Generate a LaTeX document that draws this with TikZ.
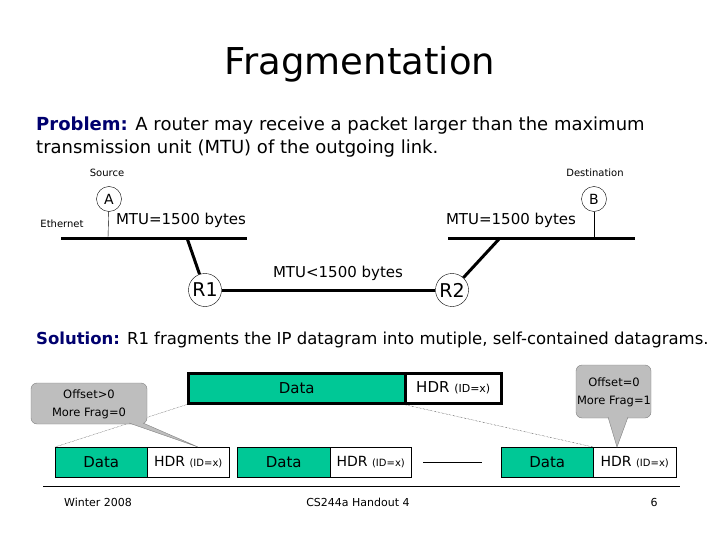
\documentclass[tikz,border=0pt]{standalone}
\usepackage{fontspec}
\setmainfont{DejaVu Sans}
\begin{document}
\begin{tikzpicture}[x=1pt,y=-1pt,
  lbl/.style={inner sep=0pt,font=\fontsize{15}{17}\selectfont},
  small/.style={inner sep=0pt,font=\fontsize{10}{12}\selectfont},
  host/.style={draw,circle,minimum size=25pt,inner sep=0pt,font=\fontsize{14}{16}\selectfont},
  rtr/.style={draw,circle,minimum size=33pt,inner sep=0pt,font=\fontsize{19}{21}\selectfont},
  net/.style={line width=3pt},
  databox/.style={draw,fill=teal0,minimum height=30pt,inner sep=0pt,font=\fontsize{15}{17}\selectfont},
  hdrbox/.style={draw,fill=white,minimum height=30pt,inner sep=0pt},
  callout/.style={fill=grey0,draw=gray,rounded corners=6pt},
  dots/.style={densely dotted,thin}]
\definecolor{teal0}{RGB}{0,200,150}
\definecolor{grey0}{RGB}{190,190,190}
\definecolor{navy0}{RGB}{0,0,110}
\useasboundingbox (0,0) rectangle (720,540);
\node (title) at (360,64) {\fontsize{37}{40}\selectfont Fragmentation};
\node[anchor=west,align=left,inner sep=0pt,font=\fontsize{18}{23}\selectfont] (prob) at (36,137) {\textcolor{navy0}{\textbf{Problem:}} A router may receive a packet larger than the maximum\\transmission unit (MTU) of the outgoing link.};
% network
\node[small] (src) at (107,173) {Source};
\node[small] (dst) at (595,173) {Destination};
\node[small] (eth) at (62,224) {Ethernet};
\node[host] (A) at (109,199) {A};
\node[host] (B) at (594,199) {B};
\coordinate (l1) at (61,238); \coordinate (l2) at (247,238);
\coordinate (r1) at (448,238); \coordinate (r2) at (635,238);
\draw[net] (l1) -- (l2);
\draw[net] (r1) -- (r2);
\coordinate (as) at (108,238); \coordinate (bs) at (594,238);
\draw (A) -- (as);
\draw (B) -- (bs);
\node[rtr] (R1) at (205,290) {R1};
\node[rtr] (R2) at (452,290) {R2};
\coordinate (lr) at (187,238); \coordinate (rr) at (500,238);
\draw[net] (lr) -- (R1);
\draw[net] (rr) -- (R2);
\draw[net] (R1) -- (R2);
\node[lbl] (m1) at (181,220) {MTU=1500 bytes};
\node[lbl] (m2) at (511,220) {MTU=1500 bytes};
\node[lbl] (m3) at (338,273) {MTU<1500 bytes};
\node[anchor=west,inner sep=0pt,font=\fontsize{16.5}{18}\selectfont] (sol) at (36,340) {\textcolor{navy0}{\textbf{Solution:}} R1 fragments the IP datagram into mutiple, self-contained datagrams.};
% big packet
\node[databox,minimum width=217pt,line width=2.5pt,anchor=north west] (bd) at (187,372) {Data};
\node[hdrbox,minimum width=96pt,line width=2.5pt,anchor=north west,font=\fontsize{15}{17}\selectfont] (bh) at (404,372) {HDR {\fontsize{11}{13}\selectfont(ID=x)}};
% fragments
\node[databox,minimum width=92pt,anchor=north west] (d1) at (55,447) {Data};
\node[hdrbox,minimum width=82pt,anchor=north west,font=\fontsize{14}{16}\selectfont] (h1) at (147,447) {HDR {\fontsize{10}{12}\selectfont(ID=x)}};
\node[databox,minimum width=93pt,anchor=north west] (d2) at (237,447) {Data};
\node[hdrbox,minimum width=81pt,anchor=north west,font=\fontsize{14}{16}\selectfont] (h2) at (330,447) {HDR {\fontsize{10}{12}\selectfont(ID=x)}};
\node[databox,minimum width=92pt,anchor=north west] (d3) at (501,447) {Data};
\node[hdrbox,minimum width=83pt,anchor=north west,font=\fontsize{14}{16}\selectfont] (h3) at (593,447) {HDR {\fontsize{10}{12}\selectfont(ID=x)}};
\coordinate (g1) at (423,462); \coordinate (g2) at (482,462);
\draw (g1) -- (g2);
\coordinate (b1) at (43,486); \coordinate (b2) at (680,486);
\draw (b1) -- (b2);
\draw[dots] (bd.south west) -- (d1.north west);
\draw[dots] (bh.south west) -- (h3.north west);
% callouts
\draw[callout] (31,383) rectangle (147,424);
\coordinate (c1) at (129,423); \coordinate (c2) at (143,423); \coordinate (c3) at (198,447);
\fill[grey0] (c1) -- (c3) -- (c2) -- cycle;
\draw[gray] (c1) -- (c3) -- (c2);
\node[align=center,inner sep=0pt,font=\fontsize{11.5}{18}\selectfont] (t1) at (89,404) {Offset>0\\More Frag=0};
\draw[callout] (576,365) rectangle (651,418);
\coordinate (c4) at (608,417); \coordinate (c5) at (628,417); \coordinate (c6) at (617,447);
\fill[grey0] (c4) -- (c6) -- (c5) -- cycle;
\draw[gray] (c4) -- (c6) -- (c5);
\node[align=center,inner sep=0pt,font=\fontsize{11.5}{18}\selectfont] (t2) at (614,392) {Offset=0\\More Frag=1};
% footer
\node[small,font=\fontsize{11}{13}\selectfont] (f1) at (98,502) {Winter 2008};
\node[small,font=\fontsize{11}{13}\selectfont] (f2) at (358,502) {CS244a Handout 4};
\node[small,font=\fontsize{11}{13}\selectfont] (f3) at (654,502) {6};
\end{tikzpicture}
\end{document}
